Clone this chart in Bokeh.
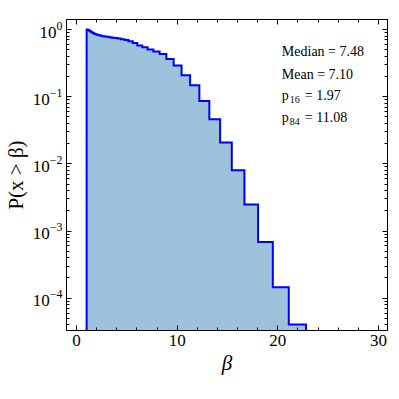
import numpy as np
from bokeh.plotting import figure
from bokeh.models import (Range1d, LinearAxis, LogAxis, SingleIntervalTicker,
                          LogTicker, ColumnDataSource, CustomJSTickFormatter)
from bokeh.core.properties import value
from bokeh.embed import file_html
from bokeh.resources import INLINE

# ---- data ----
bin_edges = [1.000, 1.081, 1.169, 1.264, 1.367, 1.478, 1.598, 1.728, 1.869, 2.021,
             2.185, 2.363, 2.555, 2.763, 2.988, 3.230, 3.493, 3.777, 4.084, 4.416,
             4.775, 5.164, 5.583, 6.037, 6.528, 7.059, 7.633, 8.254, 8.925, 9.651,
             10.436, 11.285, 12.202, 13.194, 14.267, 15.427, 16.682, 18.038, 19.504,
             21.090, 22.800]
survival = [1.000, 0.993, 0.976, 0.956, 0.934, 0.912, 0.887, 0.866, 0.848, 0.834,
            0.820, 0.808, 0.797, 0.787, 0.778, 0.768, 0.757, 0.747, 0.732, 0.717,
            0.697, 0.669, 0.631, 0.578, 0.545, 0.504, 0.470, 0.433, 0.365, 0.291,
            0.208, 0.148, 0.0863, 0.0461, 0.0207, 0.0080, 0.00249, 0.000684,
            0.000146, 0.0000406]
stat_text = ["Median = 7.48", "Mean = 7.10"]
pct_names = ["16", "84"]
pct_values = ["= 1.97", "= 11.08"]

FONT = "Liberation Serif"
FILL = "#9cc2dc"
EDGE = "#0000ff"
floor = 1e-7

# build step outline from the histogram data
xs = [bin_edges[0]]
ys = [floor]
for k, v in enumerate(survival):
    xs += [bin_edges[k], bin_edges[k + 1]]
    ys += [v, v]
xs.append(bin_edges[-1])
ys.append(floor)

p = figure(frame_width=321, frame_height=311, y_axis_type="log",
           x_range=Range1d(-1.0, 30.9), y_range=Range1d(3.3e-5, 1.41),
           output_backend="svg", toolbar_location=None,
           min_border_left=59, min_border_right=3, min_border_top=19,
           min_border_bottom=60)
p.xgrid.visible = False
p.ygrid.visible = False
p.outline_line_color = "black"
p.outline_line_width = 1
p.background_fill_color = "white"

p.patch(xs, ys, fill_color=FILL, line_color=None)
p.line(xs, ys, line_color=EDGE, line_width=2, line_join="miter")

# axes styling
xa = p.xaxis[0]
xa.ticker = SingleIntervalTicker(interval=10, num_minor_ticks=5)
ya = p.yaxis[0]
ya.ticker = LogTicker(num_minor_ticks=10)
for ax in (xa, ya):
    ax.major_tick_in = 5
    ax.major_tick_out = 0
    ax.minor_tick_in = 3
    ax.minor_tick_out = 0
    ax.axis_line_color = "black"
    ax.major_tick_line_color = "black"
    ax.minor_tick_line_color = "black"
    ax.major_label_text_font = FONT
    ax.major_label_text_font_size = "17px"
    ax.major_label_text_color = "black"
    ax.axis_label_text_font = FONT
    ax.axis_label_text_color = "black"
xa.major_label_standoff = 4
xa.axis_label = "β"
xa.axis_label_text_font_style = "italic"
xa.axis_label_text_font_size = "21px"
xa.axis_label_standoff = 2
ya.major_label_standoff = 4
ya.axis_label = "P(x > β)"
ya.axis_label_text_font_style = "normal"
ya.axis_label_text_font_size = "21px"
ya.axis_label_standoff = 2

blank = CustomJSTickFormatter(code="return ''")
top = LinearAxis(ticker=SingleIntervalTicker(interval=10, num_minor_ticks=5),
                 formatter=blank)
right = LogAxis(ticker=LogTicker(num_minor_ticks=10), formatter=blank)
for ax in (top, right):
    ax.major_tick_in = 5
    ax.major_tick_out = 0
    ax.minor_tick_in = 3
    ax.minor_tick_out = 0
    ax.major_label_standoff = 0
    ax.axis_line_color = "black"
p.add_layout(top, "above")
p.add_layout(right, "right")

# statistics annotation
tx = 20.4
src_main = ColumnDataSource(dict(x=[tx, tx], y=[0.464, 0.216], t=stat_text))
p.text(x="x", y="y", text="t", source=src_main, text_font=value(FONT),
       text_font_size="14px", text_baseline="middle", text_align="left",
       text_color="black")
py = [0.105, 0.0488]
src_p = ColumnDataSource(dict(x=[tx, tx], y=py, t=["p", "p"]))
p.text(x="x", y="y", text="t", source=src_p, text_font=value(FONT),
       text_font_size="14px", text_baseline="middle", text_align="left",
       text_color="black")
src_sub = ColumnDataSource(dict(x=[tx, tx], y=py, t=pct_names))
p.text(x="x", y="y", text="t", source=src_sub, text_font=value(FONT),
       text_font_size="10px", text_baseline="middle", text_align="left",
       text_color="black", x_offset=8, y_offset=4)
src_val = ColumnDataSource(dict(x=[tx, tx], y=py, t=pct_values))
p.text(x="x", y="y", text="t", source=src_val, text_font=value(FONT),
       text_font_size="14px", text_baseline="middle", text_align="left",
       text_color="black", x_offset=23)

open("out.html", "w").write(file_html(p, INLINE))
